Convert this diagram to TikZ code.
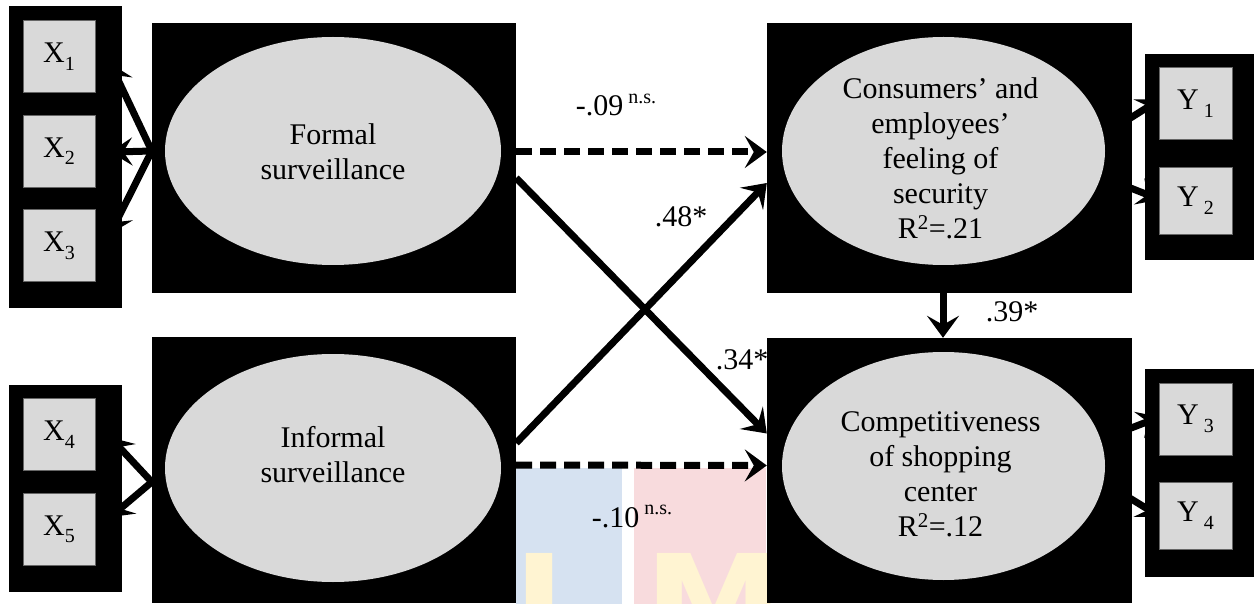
\documentclass[tikz,border=0pt]{standalone}
\usepackage{fontspec}
\setmainfont{Liberation Serif}
\newfontfamily\wmfont{DejaVu Sans}
\usetikzlibrary{arrows.meta,shapes.geometric,positioning,calc,backgrounds}

\definecolor{latgray}{RGB}{217,217,217}
\definecolor{wmblue}{RGB}{214,226,241}
\definecolor{wmpink}{RGB}{248,219,221}
\definecolor{wmyellow}{RGB}{255,244,210}

\newcommand{\ind}[2]{#1\raisebox{-0.25em}{\fontsize{20}{20}\selectfont #2}}
\newcommand{\nsup}{\raisebox{0.42em}{\fontsize{20}{20}\selectfont n.s.}}

\begin{document}
\begin{tikzpicture}[x=1pt,y=-1pt,
        font=\fontsize{30}{35}\selectfont,
        blk/.style={rectangle,fill=black,draw=none,inner sep=0},
        lat/.style={ellipse,fill=latgray,draw=none,inner sep=0},
        obs/.style={rectangle,fill=latgray,draw=black!60,line width=0.6pt,
                minimum width=72pt,minimum height=72pt,inner sep=0},
        effect/.style={line width=7pt,-{Stealth[length=22pt,width=32pt,inset=9pt]}},
        nseffect/.style={effect,dash pattern=on 16pt off 8pt},
        load/.style={line width=7pt,-{Stealth[length=22pt,width=28pt,inset=9pt]}},
        coef/.style={inner sep=0,anchor=base}]
        \useasboundingbox (0,0) rectangle (1254,604);

        % latent variables
        \node[blk,minimum width=364pt,minimum height=270pt] (formalbg) at (334,158) {};
        \node[blk,minimum width=364pt,minimum height=266pt] (informalbg) at (334,470) {};
        \node[blk,minimum width=365pt,minimum height=270pt] (consumersbg) at (949.5,158) {};
        \node[blk,minimum width=365pt,minimum height=265pt] (competbg) at (949.5,470.5) {};
        \node[lat,minimum width=336pt,minimum height=228pt] (formal) at (333,151) {};
        \node[lat,minimum width=336pt,minimum height=228pt] (informal) at (333,468) {};
        \node[lat,minimum width=323pt,minimum height=228pt] (consumers) at (943.5,151) {};
        \node[lat,minimum width=323pt,minimum height=228pt] (compet) at (943.5,466) {};
        \node[align=center,inner sep=0] (formaltxt) at ($(formal)+(0,1)$) {Formal\\surveillance};
        \node[align=center,inner sep=0] (informaltxt) at ($(informal)+(0,-13)$) {Informal\\surveillance};
        \node[align=center,inner sep=0] (consumerstxt) at ($(consumers)+(-3,7)$)
        {Consumers' and\\employees'\\feeling of\\security\\R\textsuperscript{2}=.21};
        \node[align=center,inner sep=0] (compettxt) at ($(compet)+(-3,8)$)
        {Competitiveness\\of shopping\\center\\R\textsuperscript{2}=.12};

        % indicators
        \node[blk,minimum width=113pt,minimum height=302pt] (xtopbg) at (65.5,157) {};
        \node[blk,minimum width=113pt,minimum height=207pt] (xbotbg) at (65.5,488.5) {};
        \node[blk,minimum width=109pt,minimum height=206pt] (ytopbg) at (1199.5,157) {};
        \node[blk,minimum width=109pt,minimum height=208pt] (ybotbg) at (1199.5,473) {};
        \node[obs] (x1) at (59,56.5) {\ind{X}{1}};
        \node[obs,below=22pt of x1] (x2) {\ind{X}{2}};
        \node[obs,below=22pt of x2] (x3) {\ind{X}{3}};
        \node[obs] (x4) at (59,434.5) {\ind{X}{4}};
        \node[obs,below=22pt of x4] (x5) {\ind{X}{5}};
        \node[obs,minimum width=73pt] (y1) at (1195.5,103.5) {\ind{Y\,}{1}};
        \node[obs,minimum width=73pt,minimum height=67pt] (y2) at (1195.5,200.5) {\ind{Y\,}{2}};
        \node[obs,minimum width=73pt] (y3) at (1195.5,419) {\ind{Y\,}{3}};
        \node[obs,minimum width=73pt,minimum height=67pt] (y4) at (1195.5,515.5) {\ind{Y\,}{4}};

        \begin{scope}[on background layer]
        \fill[wmblue] (516,468) rectangle (622,604);
        \fill[wmpink] (634,468) rectangle (766,604);
        \node[anchor=north west,inner sep=0,text=wmyellow,
        font=\wmfont\bfseries\fontsize{140}{140}\selectfont] (wmi) at (513,553) {I};
        \node[anchor=north west,inner sep=0,text=wmyellow,
        font=\wmfont\bfseries\fontsize{140}{140}\selectfont] (wmm) at (644,553) {M};
        \draw[load] ($(formal.west)+(-13,0)$) -- ($(x1.east)+(15,7)$);
        \draw[load] ($(formal.west)+(-13,0)$) -- ($(x2.east)+(15,1)$);
        \draw[load] ($(formal.west)+(-13,0)$) -- ($(x3.east)+(15,-12)$);
        \draw[load] ($(informal.west)+(-13,14)$) -- ($(x4.east)+(15,3)$);
        \draw[load] ($(informal.west)+(-13,14)$) -- ($(x5.east)+(15,-12)$);
        \draw[load] ($(consumers.east)+(0,-17)$) -- ($(y1.west)+(1,-4)$);
        \draw[load] ($(consumers.east)+(0,27)$) -- ($(y2.west)+(1,-1)$);
        \draw[load] ($(compet.east)+(0,-28)$) -- ($(y3.west)+(1,-2)$);
        \draw[load] ($(compet.east)+(0,17)$) -- ($(y4.west)+(1,1)$);
        \end{scope}

        % structural paths
        \draw[nseffect] ($(formalbg.east)+(0,-6)$) -- ($(consumersbg.west)+(0,-6)$);
        \draw[effect] ($(formalbg.east)+(0,20)$) -- ($(competbg.west)+(0,-37)$);
        \draw[effect] ($(informalbg.east)+(0,-27)$) -- ($(consumersbg.west)+(0,25)$);
        \draw[nseffect] ($(informalbg.east)+(0,-5)$) -- ($(competbg.west)+(0,-5)$);
        \draw[effect] ($(consumersbg.south)+(-6.5,0)$) -- ($(competbg.north)+(-6.5,0)$);
        \node[coef] (c09) at (616,116) {-.09\,\nsup};
        \node[coef] (c48) at (681,227) {.48*};
        \node[coef] (c34) at (742,369) {.34*};
        \node[coef] (c39) at (1012,322) {.39*};
        \node[coef] (c10) at (632,527) {-.10\,\nsup};
\end{tikzpicture}
\end{document}
